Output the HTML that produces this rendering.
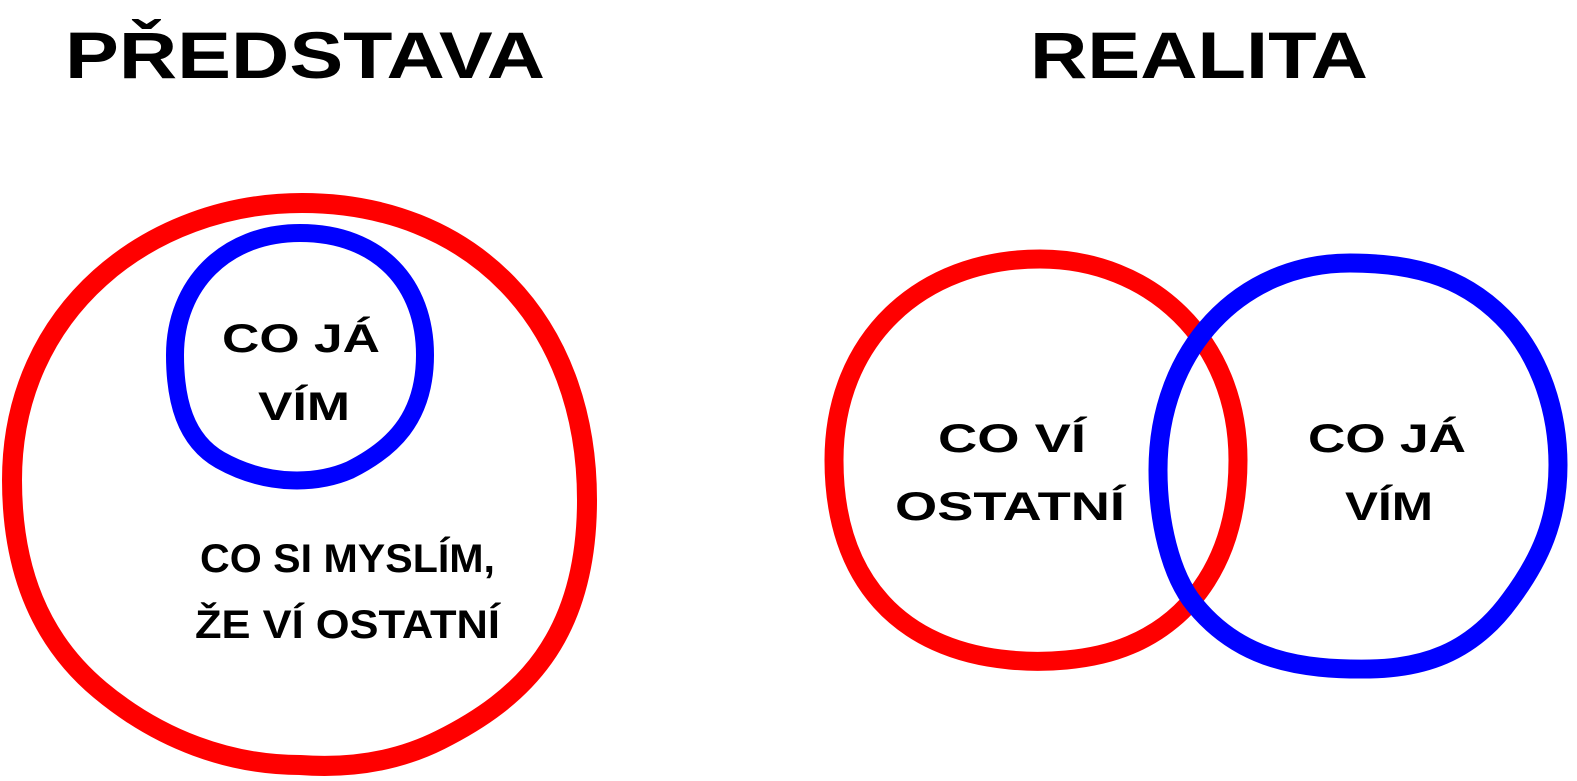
<!DOCTYPE html>
<html><head><meta charset="utf-8"><style>
html,body{margin:0;padding:0;background:#fff;}
svg{display:block}
text{font-family:"Liberation Sans",sans-serif;font-weight:bold;fill:#000;}
</style></head><body>
<svg width="1577" height="781" viewBox="0 0 1577 781" xmlns="http://www.w3.org/2000/svg">
<text x="65" y="78" font-size="66" textLength="480" lengthAdjust="spacingAndGlyphs">PŘEDSTAVA</text>
<text x="1030" y="78" font-size="66" textLength="338" lengthAdjust="spacingAndGlyphs">REALITA</text>

<path d="M302,203 C470,203 587,320 587,500 C587,640 520,700 440,740 C390,765 340,768 300,765 C230,765 160,740 100,690 C40,640 12,570 12,480 C12,310 150,203 302,203 Z" fill="none" stroke="#ff0000" stroke-width="20"/>
<path d="M300,233 C380,233 425,285 425,355 C425,420 390,450 350,470 C320,483 270,488 220,460 C185,440 175,400 175,355 C175,285 225,233 300,233 Z" fill="none" stroke="#0000ff" stroke-width="18"/>

<path d="M1040,259 C1150,259 1238,340 1238,460 C1238,560 1190,620 1130,645 C1090,662 1040,663 1010,660 C900,650 834,580 834,460 C834,340 920,259 1040,259 Z" fill="none" stroke="#ff0000" stroke-width="19"/>
<path d="M1350,263 C1420,263 1470,280 1510,325 C1540,360 1558,410 1558,465 C1558,520 1540,560 1510,600 C1470,655 1420,668 1370,669 C1300,670 1240,660 1195,605 C1170,575 1158,520 1158,470 C1158,350 1240,263 1350,263 Z" fill="none" stroke="#0000ff" stroke-width="19"/>

<text x="222" y="352" font-size="40" textLength="158" lengthAdjust="spacingAndGlyphs">CO JÁ</text>
<text x="258" y="420" font-size="40" textLength="92" lengthAdjust="spacingAndGlyphs">VÍM</text>
<text x="200" y="572" font-size="40" textLength="295" lengthAdjust="spacingAndGlyphs">CO SI MYSLÍM,</text>
<text x="195" y="638" font-size="40" textLength="305" lengthAdjust="spacingAndGlyphs">ŽE VÍ OSTATNÍ</text>

<text x="938" y="452" font-size="40" textLength="148" lengthAdjust="spacingAndGlyphs">CO VÍ</text>
<text x="895" y="520" font-size="40" textLength="230" lengthAdjust="spacingAndGlyphs">OSTATNÍ</text>
<text x="1308" y="452" font-size="40" textLength="158" lengthAdjust="spacingAndGlyphs">CO JÁ</text>
<text x="1345" y="520" font-size="40" textLength="88" lengthAdjust="spacingAndGlyphs">VÍM</text>
</svg>
</body></html>
